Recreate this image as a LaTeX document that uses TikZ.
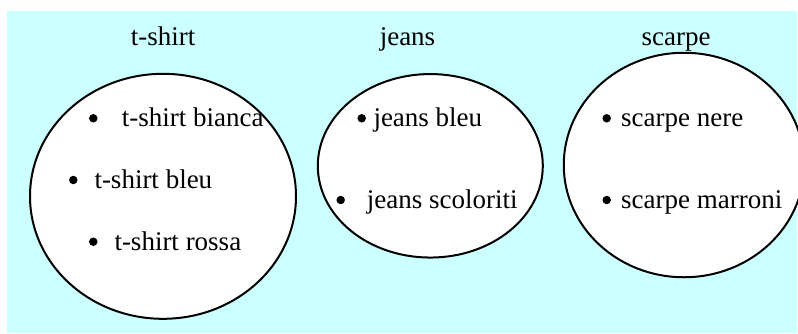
\documentclass[tikz,border=0pt]{standalone}
\usepackage{fontspec}
\setmainfont{Liberation Serif}
\usetikzlibrary{shapes.geometric}
\definecolor{bgcyan}{HTML}{CCFFFF}
\begin{document}
\begin{tikzpicture}[x=1pt,y=-1pt,
  set/.style={ellipse,draw=black,line width=2pt,fill=white,inner sep=0pt},
  ttl/.style={anchor=base,inner sep=0pt,font=\fontsize{27}{32}\selectfont},
  item/.style={anchor=base west,inner sep=0pt,font=\fontsize{27}{32}\selectfont},
  dot/.style={circle,fill=black,inner sep=0pt,minimum size=8.5pt}]
\useasboundingbox (0,0) rectangle (798,333);
\clip (0,0) rectangle (798,333);
\fill[bgcyan] (7,11) rectangle (797,333);
% sets
\node[set,minimum width=266pt,minimum height=245pt] (e1) at (163,196.3) {};
\node[set,minimum width=225pt,minimum height=183.5pt] (e2) at (430.3,165.8) {};
\node[set,minimum width=240.5pt,minimum height=224.5pt] (e3) at (684,165) {};
% titles
\node[ttl] (t1) at (163,45) {t-shirt};
\node[ttl] (t2) at (407.5,45) {jeans};
\node[ttl] (t3) at (676,45) {scarpe};
% t-shirt items
\node[dot] (b11) at (93.3,118.3) {};
\node[item] (i11) at (121.7,126.7) {t-shirt bianca};
\node[dot] (b12) at (73.3,180) {};
\node[item] (i12) at (94.3,188.3) {t-shirt bleu};
\node[dot] (b13) at (93.3,241.7) {};
\node[item] (i13) at (114.3,250) {t-shirt rossa};
% jeans items
\node[dot] (b21) at (361.7,118.3) {};
\node[item] (i21) at (373.3,126.5) {jeans bleu};
\node[dot] (b22) at (340.7,200) {};
\node[item] (i22) at (366.7,208.3) {jeans scoloriti};
% scarpe items
\node[dot] (b31) at (606.7,118.3) {};
\node[item] (i31) at (621,126.5) {scarpe nere};
\node[dot] (b32) at (606.7,200) {};
\node[item] (i32) at (621,208.3) {scarpe marroni};
\end{tikzpicture}
\end{document}
